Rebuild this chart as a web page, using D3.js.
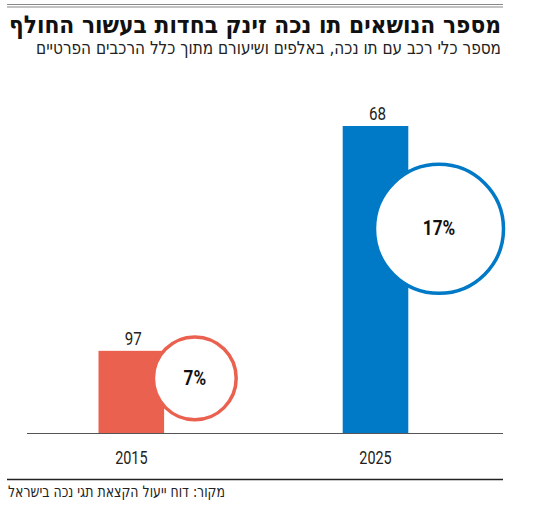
<!DOCTYPE html>
<html><head><meta charset="utf-8">
<script src="https://cdn.jsdelivr.net/npm/d3@7"></script>
<style>
html,body{margin:0;padding:0;background:#fff;}
svg{display:block;}
text{font-family:"DejaVu Sans Condensed","DejaVu Sans",sans-serif;}
text.num{font-family:Roboto,"DejaVu Sans Condensed",sans-serif;}
</style></head>
<body>
<svg id="chart" width="550" height="515"></svg>
<script>
// ---- data ----
const years = ["2015", "2025"];
const vehicles = [18.2, 68];            // bar heights (thousands)
const valueLabels = ["97", "68"];       // labels as printed above the bars
const shares = [7, 17];                 // percent of all private vehicles
const shareLabels = ["7%", "17%"];
const colors = ["#EA6150", "#0079C6"];
const title = "מספר הנושאים תו נכה זינק בחדות בעשור החולף";
const subtitle = "מספר כלי רכב עם תו נכה, באלפים ושיעורם מתוך כלל הרכבים הפרטיים";
const source = "מקור: דוח ייעול הקצאת תגי נכה בישראל";

const svg = d3.select("#chart");

// header rules
svg.append("line").attr("x1",7).attr("x2",503).attr("y1",4.5).attr("y2",4.5).attr("stroke","#888").attr("stroke-width",1.2);
svg.append("line").attr("x1",7).attr("x2",503).attr("y1",7).attr("y2",7).attr("stroke","#888").attr("stroke-width",1.2);

svg.append("text").text(title)
  .attr("x",501).attr("y",33).attr("direction","rtl").attr("text-anchor","start")
  .attr("font-size",24.5).attr("font-weight",900).attr("fill","#111")
  .attr("textLength",492).attr("lengthAdjust","spacingAndGlyphs");
svg.append("text").text(subtitle)
  .attr("x",501).attr("y",53.5).attr("direction","rtl").attr("text-anchor","start")
  .attr("font-size",17.5).attr("fill","#222")
  .attr("textLength",465).attr("lengthAdjust","spacingAndGlyphs");

// scales
const baseY = 433;
const y = d3.scaleLinear().domain([0, 68]).range([baseY, 126]);
const x = d3.scalePoint().domain(years).range([131.3, 375.5]);
const barW = 65.6;
const r = d3.scaleSqrt().domain([0, 17]).range([0, 64.5]);

const data = years.map((yr,i)=>({yr, v:vehicles[i], lab:valueLabels[i], s:shares[i], sl:shareLabels[i], c:colors[i]}));

// bars
svg.selectAll("rect.bar").data(data).join("rect").attr("class","bar")
  .attr("x",d=>x(d.yr)-barW/2).attr("width",barW)
  .attr("y",d=>y(d.v)).attr("height",d=>baseY-y(d.v))
  .attr("fill",d=>d.c);

// value labels
svg.selectAll("text.val").data(data).join("text").attr("class","val num")
  .attr("transform",d=>`translate(${x(d.yr)+2},${y(d.v)-6}) scale(0.82,1)`)
  .attr("text-anchor","middle").attr("font-size",18.5).attr("fill","#222")
  .text(d=>d.lab);

// circles
const cxOff = 63.5, cyFrac = 0.665;
svg.selectAll("circle.share").data(data).join("circle").attr("class","share")
  .attr("cx",d=>x(d.yr)+cxOff).attr("cy",d=>y(d.v*cyFrac))
  .attr("r",d=>r(d.s)).attr("fill","#fff").attr("stroke",d=>d.c).attr("stroke-width",3.5);
svg.selectAll("text.share").data(data).join("text").attr("class","share num")
  .attr("transform",d=>`translate(${x(d.yr)+cxOff},${y(d.v*cyFrac)+6.5}) scale(0.88,1)`)
  .attr("text-anchor","middle").attr("font-size",19.5).attr("font-weight",700).attr("fill","#111")
  .text(d=>d.sl);

// axis line
svg.append("line").attr("x1",27).attr("x2",503).attr("y1",baseY+0.5).attr("y2",baseY+0.5).attr("stroke","#555").attr("stroke-width",1.2);

// year labels
svg.selectAll("text.yr").data(data).join("text").attr("class","yr num")
  .attr("transform",d=>`translate(${x(d.yr)},463.5) scale(0.8,1)`)
  .attr("text-anchor","middle").attr("font-size",18).attr("fill","#222")
  .text(d=>d.yr);

// footer
svg.append("line").attr("x1",7).attr("x2",503).attr("y1",479.5).attr("y2",479.5).attr("stroke","#222").attr("stroke-width",1.3);
svg.append("text").text(source)
  .attr("x",8).attr("y",496.5).attr("direction","rtl").attr("text-anchor","end")
  .attr("font-size",16).attr("fill","#222")
  .attr("textLength",217).attr("lengthAdjust","spacingAndGlyphs");
</script>
</body></html>
